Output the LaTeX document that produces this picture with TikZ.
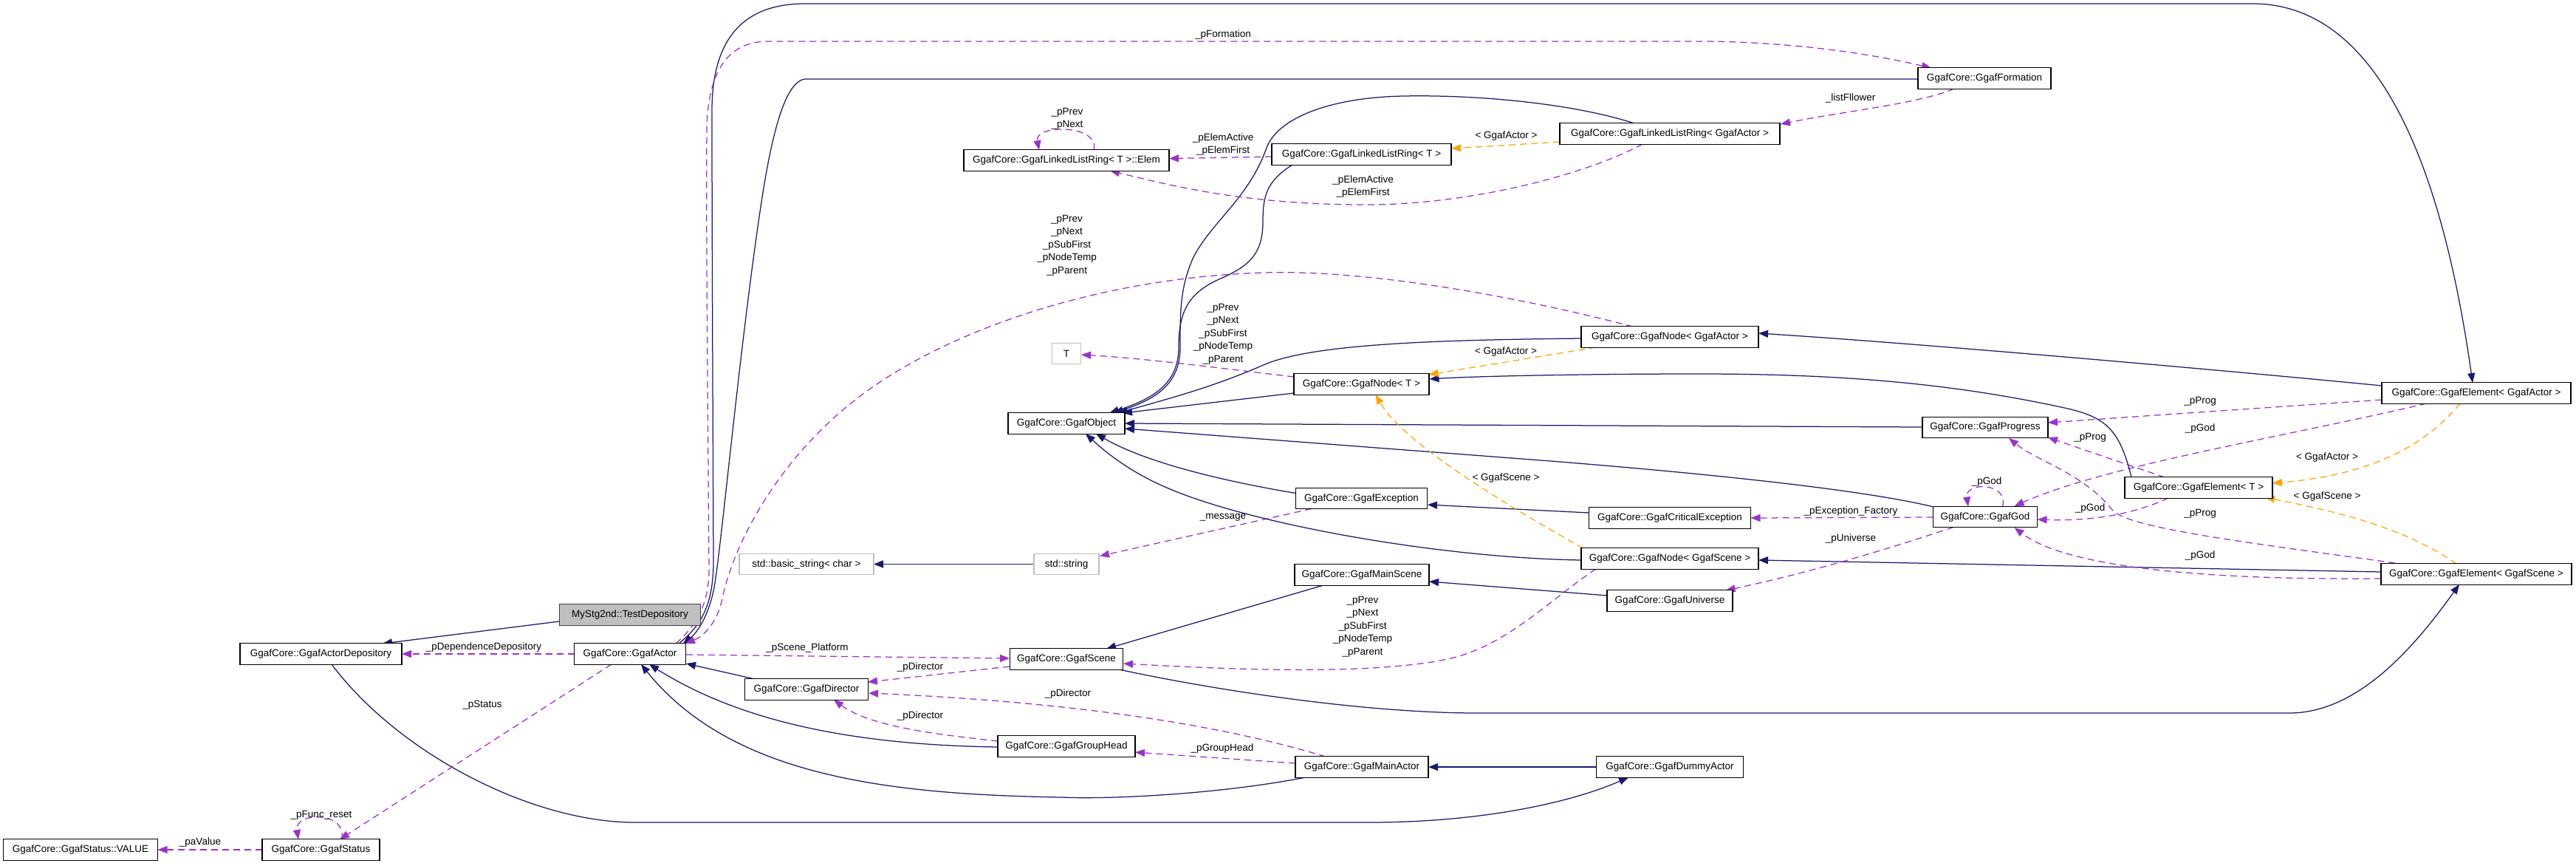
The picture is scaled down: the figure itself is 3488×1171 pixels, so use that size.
\documentclass[tikz,border=0pt]{standalone}
\usepackage{fontspec}
\setmainfont{Liberation Sans}
\usetikzlibrary{calc,arrows.meta}
\definecolor{navy}{HTML}{191970}
\definecolor{orchid}{HTML}{9A32CD}
\definecolor{orng}{HTML}{FFA500}
\definecolor{lgray}{HTML}{BFBFBF}
\definecolor{dgray}{HTML}{404040}
\pgfdeclarelayer{bg}
\pgfsetlayers{bg,main}
\begin{document}
\begin{tikzpicture}[x=1pt,y=-1pt,
  every node/.style={font=\fontsize{13.5}{17.5}\selectfont},
  cls/.style={draw=black, fill=white, line width=1.3pt, minimum height=28.5pt, inner xsep=3pt, inner ysep=0pt},
  ext/.style={cls, draw=lgray},
  lbl/.style={inner sep=0pt, align=center},
  tipa/.style={-{Triangle[length=13pt,width=10pt]}},
  inh/.style={draw=navy, line width=1.25pt, tipa},
  uses/.style={draw=orchid, line width=1.25pt, dash pattern=on 9pt off 6pt, tipa},
  tmpl/.style={draw=orng, line width=1.25pt, dash pattern=on 9pt off 6pt, tipa}
]
\useasboundingbox (0,0) rectangle (3488,1171);
% nodes
\node[cls, fill=lgray, draw=dgray, minimum width=191pt] (n1) at (853,832) {MyStg2nd::TestDepository};
\node[cls, minimum width=219pt] (n2) at (434.5,885) {GgafCore::GgafActorDepository};
\node[cls, minimum width=151pt] (n3) at (853,885) {GgafCore::GgafActor};
\node[cls, minimum width=159pt] (n4) at (434.5,1150) {GgafCore::GgafStatus};
\node[cls, minimum width=209pt] (n5) at (109,1150) {GgafCore::GgafStatus::VALUE};
\node[cls, minimum width=167pt] (n6) at (1092,933) {GgafCore::GgafDirector};
\node[cls, minimum width=186pt] (n7) at (1444,1010) {GgafCore::GgafGroupHead};
\node[cls, minimum width=180pt] (n8) at (1844,1038) {GgafCore::GgafMainActor};
\node[cls, minimum width=199pt] (n9) at (2261,1038) {GgafCore::GgafDummyActor};
\node[cls, minimum width=153pt] (n10) at (1444,892) {GgafCore::GgafScene};
\node[cls, minimum width=182pt] (n11) at (1844,778) {GgafCore::GgafMainScene};
\node[ext, minimum width=88pt] (n12) at (1444,763.5) {std::string};
\node[ext, minimum width=182pt] (n13) at (1092,763.5) {std::basic\_string\textless{} char \textgreater{}};
\node[cls, minimum width=158pt] (n14) at (1444,573) {GgafCore::GgafObject};
\node[cls, minimum width=178pt] (n15) at (1843.5,674.5) {GgafCore::GgafException};
\node[ext, minimum width=39pt] (n16) at (1444,478.5) {T};
\node[cls, minimum width=183pt] (n17) at (1843.5,520) {GgafCore::GgafNode\textless{} T \textgreater{}};
\node[cls, minimum width=240pt] (n18) at (2261,456) {GgafCore::GgafNode\textless{} GgafActor \textgreater{}};
\node[cls, minimum width=278pt] (n19) at (1444,217) {GgafCore::GgafLinkedListRing\textless{} T \textgreater{}::Elem};
\node[cls, minimum width=243pt] (n20) at (1843.5,209) {GgafCore::GgafLinkedListRing\textless{} T \textgreater{}};
\node[cls, minimum width=298pt] (n21) at (2261,181) {GgafCore::GgafLinkedListRing\textless{} GgafActor \textgreater{}};
\node[cls, minimum width=180pt] (n22) at (2687,106) {GgafCore::GgafFormation};
\node[cls, minimum width=170pt] (n23) at (2688,578.5) {GgafCore::GgafProgress};
\node[cls, minimum width=141pt] (n24) at (2688,699.5) {GgafCore::GgafGod};
\node[cls, minimum width=219pt] (n25) at (2261,701) {GgafCore::GgafCriticalException};
\node[cls, minimum width=240pt] (n26) at (2261,756) {GgafCore::GgafNode\textless{} GgafScene \textgreater{}};
\node[cls, minimum width=170pt] (n27) at (2261,813) {GgafCore::GgafUniverse};
\node[cls, minimum width=256pt] (n28) at (3353,532) {GgafCore::GgafElement\textless{} GgafActor \textgreater{}};
\node[cls, minimum width=200pt] (n29) at (2977,660) {GgafCore::GgafElement\textless{} T \textgreater{}};
\node[cls, minimum width=258pt] (n30) at (3353,777) {GgafCore::GgafElement\textless{} GgafScene \textgreater{}};
% labels
\node[lbl] (l1) at (655,876) {\_pDependenceDepository};
\node[lbl] (l2) at (653,954) {\_pStatus};
\node[lbl] (l3) at (435,1103) {\_pFunc\_reset};
\node[lbl] (l4) at (271,1140) {\_paValue};
\node[lbl] (l5) at (1093,877) {\_pScene\_Platform};
\node[lbl] (l6) at (1246,903) {\_pDirector};
\node[lbl] (l7) at (1246,969) {\_pDirector};
\node[lbl] (l8) at (1446,939) {\_pDirector};
\node[lbl] (l9) at (1655,1013) {\_pGroupHead};
\node[lbl] (l10) at (1845,848) {\_pPrev\\\_pNext\\\_pSubFirst\\\_pNodeTemp\\\_pParent};
\node[lbl] (l11) at (1444.6,332) {\_pPrev\\\_pNext\\\_pSubFirst\\\_pNodeTemp\\\_pParent};
\node[lbl] (l12) at (1656,452) {\_pPrev\\\_pNext\\\_pSubFirst\\\_pNodeTemp\\\_pParent};
\node[lbl] (l13) at (1656,47) {\_pFormation};
\node[lbl] (l14) at (1445,160.5) {\_pPrev\\\_pNext};
\node[lbl] (l15) at (1656,195.5) {\_pElemActive\\\_pElemFirst};
\node[lbl] (l16) at (1845.5,252.5) {\_pElemActive\\\_pElemFirst};
\node[lbl] (l17) at (2505.6,133) {\_listFllower};
\node[lbl] (l18) at (2039.5,184) {\textless{} GgafActor \textgreater{}};
\node[lbl] (l19) at (2039,476) {\textless{} GgafActor \textgreater{}};
\node[lbl] (l20) at (2039,647) {\textless{} GgafScene \textgreater{}};
\node[lbl] (l21) at (1656,700) {\_message};
\node[lbl] (l22) at (2690,652) {\_pGod};
\node[lbl] (l23) at (2506,692) {\_pException\_Factory};
\node[lbl] (l24) at (2506,729) {\_pUniverse};
\node[lbl] (l25) at (2979,543) {\_pProg};
\node[lbl] (l26) at (2979,580) {\_pGod};
\node[lbl] (l27) at (2830,592) {\_pProg};
\node[lbl] (l28) at (3151,619) {\textless{} GgafActor \textgreater{}};
\node[lbl] (l29) at (3151,672) {\textless{} GgafScene \textgreater{}};
\node[lbl] (l30) at (2830,688) {\_pGod};
\node[lbl] (l31) at (2979,695) {\_pProg};
\node[lbl] (l32) at (2979,752) {\_pGod};
% edges
\begin{pgfonlayer}{bg}
\draw[inh] ($(n1)+(-96,9)$) -- ($(n2)+(83.5,-14)$);
\draw[uses] ($(n3)+(-75.5,0)$) -- ($(n2)+(109.5,0)$);
\draw[inh] ($(n2)+(14.5,14)$) .. controls (540,1020) and (720,1113) .. (860,1113) -- (1853,1113) .. controls (2010,1113) and (2130,1085) .. ($(n9)+(-56,14)$);
\draw[uses] ($(n3)+(-25,14)$) -- ($(n4)+(25.5,-14)$);
\draw[uses] ($(n4)+(28,-14)$) .. controls (472,1098) and (398,1098) .. ($(n4)+(-30.5,-14)$);
\draw[uses] ($(n4)+(-79.5,0)$) -- ($(n5)+(104.5,0)$);
% GgafActor to top
\draw[inh] ($(n3)+(66,-14)$) .. controls (948,848) and (966,820) .. (966,760) .. controls (965,500) and (964,300) .. (964,150) .. controls (964,60) and (1000,5) .. (1090,5) -- (3050,5) .. controls (3230,5) and (3310,250) .. ($(n28)+(-5,-14)$);
\draw[uses] ($(n3)+(62,-14)$) .. controls (945,845) and (960,815) .. (960,770) .. controls (958,500) and (956,300) .. (957,170) .. controls (960,90) and (990,56) .. (1040,56) -- (2300,56) .. controls (2420,56) and (2530,72) .. ($(n22)+(-72,-14)$);
\draw[inh] ($(n22)+(-90,1)$) -- (1090,107) .. controls (1060,110) and (1042,200) .. (1030,280) .. controls (1000,480) and (975,760) .. (966,800) .. controls (958,835) and (945,855) .. ($(n3)+(72,-14)$);
\draw[uses] ($(n18)+(-50,-14)$) .. controls (2050,400) and (1850,365) .. (1713,369) .. controls (1500,375) and (1300,440) .. (1177,527) .. controls (1060,610) and (995,730) .. (978,810) .. controls (972,840) and (955,860) .. ($(n3)+(75,-14)$);
% GgafActor children
\draw[inh] ($(n6)+(-70,-14)$) -- ($(n3)+(76,13)$);
\draw[inh] ($(n7)+(-93,1)$) .. controls (1150,1008) and (1000,975) .. ($(n3)+(26,14)$);
\draw[inh] ($(n8)+(-76,14)$) .. controls (1650,1075) and (1500,1082) .. (1437,1079) .. controls (1200,1075) and (990,1050) .. ($(n3)+(15,14)$);
\draw[uses] ($(n3)+(76,1)$) -- ($(n10)+(-77,-1)$);
\draw[uses] ($(n10)+(-77,10)$) -- ($(n6)+(83,-10)$);
\draw[uses] ($(n8)+(-49,-14)$) .. controls (1650,980) and (1450,950) .. ($(n6)+(84,5)$);
\draw[uses] ($(n7)+(-93,-7)$) .. controls (1280,995) and (1180,985) .. ($(n6)+(37,14)$);
\draw[uses] ($(n8)+(-90,-5)$) -- ($(n7)+(93,8)$);
\draw[inh] ($(n11)+(-52,14)$) -- ($(n10)+(54,-14)$);
\draw[inh] ($(n10)+(71,14)$) .. controls (1650,935) and (1850,965) .. (2000,965) -- (3100,965) .. controls (3200,965) and (3280,860) .. ($(n30)+(-23,14)$);
\draw[uses] ($(n26)+(-100,14)$) .. controls (2100,810) and (2040,875) .. (1960,892) .. controls (1850,915) and (1650,905) .. ($(n10)+(77,6)$);
\draw[inh] ($(n9)+(-99.5,0)$) -- ($(n8)+(90,0)$);
\draw[inh] ($(n12)+(-44,0)$) -- ($(n13)+(91,0)$);
\draw[uses] ($(n15)+(-67.5,14)$) -- ($(n12)+(45,-11)$);
\draw[inh] ($(n15)+(-89,-7)$) .. controls (1650,650) and (1550,625) .. ($(n14)+(40,14)$);
\draw[inh] ($(n26)+(-120,2)$) .. controls (1950,755) and (1700,710) .. (1587,663) .. controls (1530,640) and (1495,610) .. ($(n14)+(26,14)$);
\draw[inh] ($(n25)+(-109.5,-7)$) -- ($(n15)+(89.5,8.5)$);
\draw[inh] ($(n30)+(-129,-3)$) -- ($(n26)+(120,2)$);
\draw[inh] ($(n27)+(-84.5,-7)$) -- ($(n11)+(91,9)$);
\draw[uses] ($(n24)+(-43,14)$) .. controls (2550,745) and (2450,775) .. ($(n27)+(75.6,-14)$);
\draw[uses] ($(n24)+(-70.5,0.5)$) -- ($(n25)+(109.5,0)$);
\draw[uses] ($(n24)+(23.5,-14)$) .. controls (2720,652) and (2660,652) .. ($(n24)+(-23,-14)$);
\draw[uses] ($(n29)+(-41,14)$) .. controls (2880,700) and (2820,705) .. ($(n24)+(70.5,3.5)$);
\draw[uses] ($(n28)+(-67.5,14)$) .. controls (3100,590) and (2850,630) .. ($(n24)+(39.6,-14.5)$);
\draw[uses] ($(n30)+(-129,6)$) .. controls (3000,785) and (2800,770) .. ($(n24)+(39.6,14.5)$);
\draw[uses] ($(n28)+(-128,9)$) -- ($(n23)+(85,-6.5)$);
\draw[uses] ($(n29)+(-46,-14)$) -- ($(n23)+(85,13.5)$);
\draw[uses] ($(n30)+(-110,-15)$) .. controls (3050,735) and (2880,715) .. (2860,690) .. controls (2820,640) and (2760,625) .. ($(n23)+(32,14.5)$);
\draw[tmpl] ($(n28)+(-22,14)$) .. controls (3270,620) and (3180,645) .. ($(n29)+(100,-6)$);
\draw[tmpl] ($(n30)+(-27,-14)$) .. controls (3250,710) and (3150,690) .. ($(n29)+(90,13)$);
\draw[inh] ($(n29)+(-91,-14)$) .. controls (2870,580) and (2850,565) .. (2800,553) .. controls (2650,520) and (2500,506) .. (2300,506) .. controls (2150,506) and (2000,509) .. ($(n17)+(92,-7)$);
\draw[inh] ($(n28)+(-128,-10)$) .. controls (3000,500) and (2600,465) .. ($(n18)+(120,-5)$);
\draw[inh] ($(n23)+(-85.4,-0.5)$) -- ($(n14)+(79,0)$);
\draw[inh] ($(n24)+(-70,-13.5)$) .. controls (2520,662) and (2300,640) .. (2100,624) -- ($(n14)+(79,7)$);
\draw[inh] ($(n17)+(-91.5,12)$) -- ($(n14)+(76,-14)$);
\draw[inh] ($(n18)+(-119.5,2)$) .. controls (1950,460) and (1780,465) .. (1713,493) .. controls (1640,525) and (1580,540) .. ($(n14)+(70,-14)$);
\draw[inh] ($(n20)+(-93.5,14)$) .. controls (1715,245) and (1710,265) .. (1710,300) .. controls (1710,345) and (1690,360) .. (1655,376) .. controls (1610,395) and (1596,420) .. (1596,470) .. controls (1596,520) and (1560,540) .. ($(n14)+(58,-14)$);
\draw[inh] ($(n21)+(-48,-14)$) .. controls (2130,140) and (2000,128) .. (1900,130) .. controls (1800,132) and (1730,160) .. (1715,200) .. controls (1690,270) and (1640,300) .. (1615,350) .. controls (1598,390) and (1598,420) .. (1598,470) .. controls (1598,520) and (1565,540) .. ($(n14)+(64,-14)$);
\draw[tmpl] ($(n21)+(-149,11)$) -- ($(n20)+(121.5,-8)$);
\draw[uses] ($(n22)+(-41,14)$) .. controls (2600,140) and (2500,150) .. ($(n21)+(150,-13)$);
\draw[uses] ($(n20)+(-121.5,3)$) -- ($(n19)+(139,-2.5)$);
\draw[uses] ($(n21)+(-37,14)$) .. controls (2150,235) and (2000,275) .. (1860,277) .. controls (1700,278) and (1600,255) .. ($(n19)+(59,14)$);
\draw[uses] ($(n19)+(37,-14)$) .. controls (1490,168) and (1400,168) .. ($(n19)+(-37,-14)$);
\draw[tmpl] ($(n18)+(-100,14)$) -- ($(n17)+(91,-13)$);
\draw[tmpl] ($(n26)+(-117,-14)$) .. controls (2050,690) and (1900,600) .. ($(n17)+(19,14)$);
\draw[uses] ($(n17)+(-91.5,-10)$) .. controls (1650,498) and (1550,485) .. ($(n16)+(20,1.5)$);
\end{pgfonlayer}
\end{tikzpicture}
\end{document}
